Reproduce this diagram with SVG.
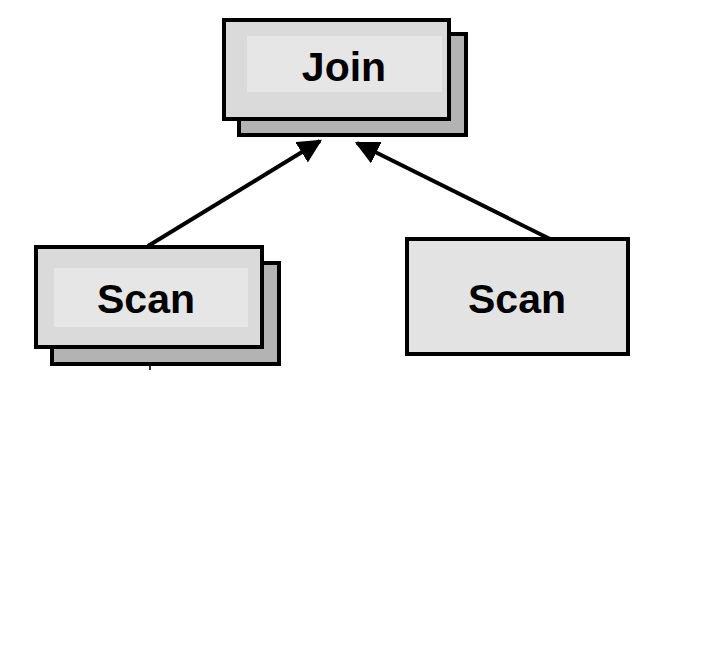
<svg xmlns="http://www.w3.org/2000/svg" width="702" height="648" viewBox="0 0 702 648">
  <defs>
    <style>
      .back { fill: #b3b3b3; stroke: #000; stroke-width: 4; }
      .front { fill: #dadada; stroke: #000; stroke-width: 4; }
      .inner { fill: #e6e6e6; stroke: none; }
      .label { font-family: "Liberation Sans", Arial, sans-serif; font-weight: bold; font-size: 41px; fill: #000; text-anchor: middle; }
      .edge { stroke: #000; stroke-width: 4; fill: none; }
    </style>
    <marker id="arrow" viewBox="0 0 10 10" refX="9" refY="5" markerWidth="6" markerHeight="6" markerUnits="strokeWidth" orient="auto">
      <path d="M0,0 L10,5 L0,10 Z" fill="#000"/>
    </marker>
  </defs>
  <rect width="702" height="648" fill="#fff"/>
  <g id="connectors">
    <line class="edge" x1="148" y1="246" x2="320" y2="141" marker-end="url(#arrow)"/>
    <line class="edge" x1="550" y1="239" x2="357" y2="143" marker-end="url(#arrow)"/>
    <rect x="149" y="366" width="2" height="4" fill="#333"/>
  </g>
  <g id="join">
    <rect class="back" x="239" y="34" width="227" height="101"/>
    <rect class="front" x="224" y="20" width="225" height="99"/>
    <rect class="inner" x="247" y="36" width="195" height="56"/>
    <text class="label" x="344" y="81">Join</text>
  </g>
  <g id="scan-left">
    <rect class="back" x="52" y="263" width="227" height="101"/>
    <rect class="front" x="36" y="247" width="226" height="100"/>
    <rect class="inner" x="54" y="268" width="194" height="59"/>
    <text class="label" x="146" y="313">Scan</text>
  </g>
  <g id="scan-right">
    <rect class="front" x="407" y="239" width="221" height="115" style="fill:#e3e3e3"/>
    <text class="label" x="517" y="313">Scan</text>
  </g>
</svg>
